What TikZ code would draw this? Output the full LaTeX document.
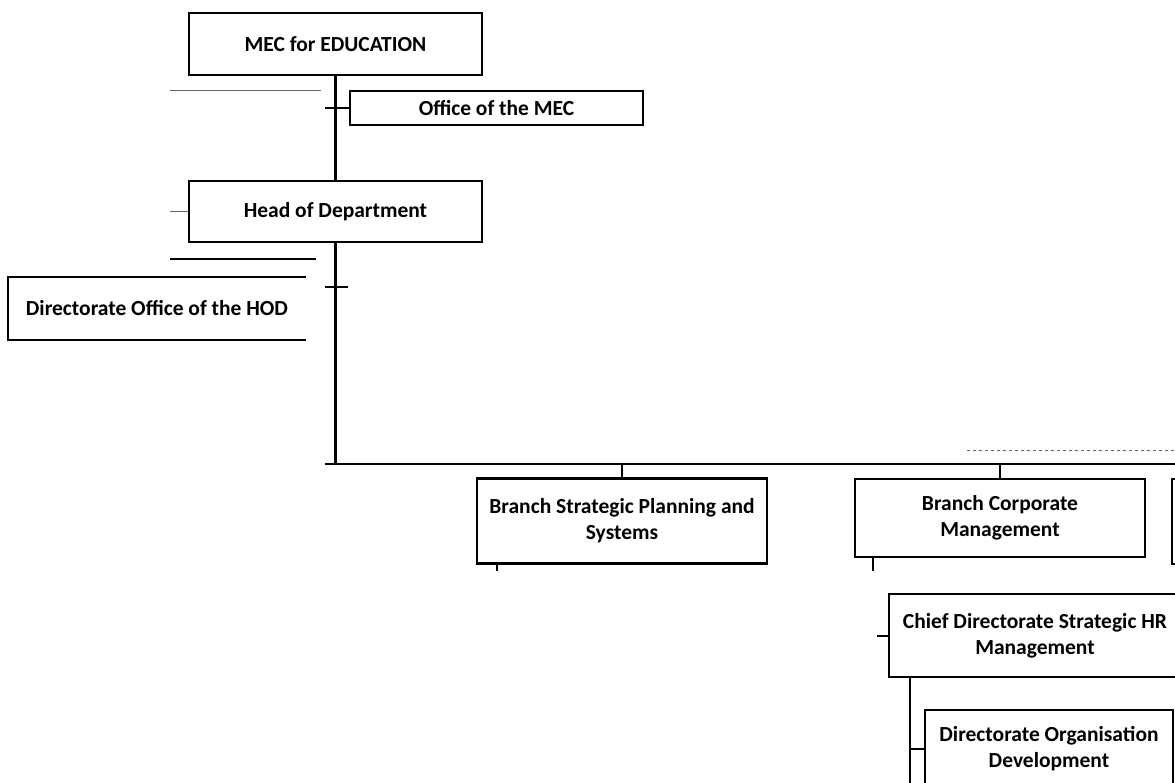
\documentclass[tikz,border=0pt]{standalone}
\usepackage{fontspec}
\setmainfont{Carlito}
\tikzset{
  box/.style={draw, line width=2.2pt, rectangle, inner sep=0pt, align=center,
    font=\fontsize{21.5}{26}\selectfont\bfseries},
  conn/.style={line width=2.2pt},
  thinconn/.style={line width=1.3pt},
  faint/.style={line width=1pt, black!60}
}
\begin{document}
\begin{tikzpicture}[x=1pt,y=-1pt]
\useasboundingbox (0,0) rectangle (1175,782);
\clip (0,0) rectangle (1175,782);
% boxes
\node[box, minimum width=293pt, minimum height=62pt] (mec) at (335.5,44) {MEC for EDUCATION};
\node[box, minimum width=293pt, minimum height=34pt] (office) at (496.5,108) {Office of the MEC};
\node[box, minimum width=293pt, minimum height=61pt] (hod) at (335.5,211.5) {Head of Department};
\node[box, draw=none, minimum width=296pt, minimum height=61pt] (dhod) at (157,308.5) {Directorate Office of the HOD};
\draw[conn] (dhod.north east) -- (dhod.north west) -- (dhod.south west) -- (dhod.south east);
\node[box, minimum width=290pt, minimum height=85pt] (bsp) at (622,521) {Branch Strategic Planning and\\Systems};
\node[box, minimum width=290pt, minimum height=78pt] (bcm) at (1000,518) {Branch Corporate\\Management};
\node[box, minimum width=290pt, minimum height=85pt] (bthree) at (1317,521.5) {};
\node[box, minimum width=292pt, minimum height=83pt] (chief) at (1035,635.5) {Chief Directorate Strategic HR\\Management};
\node[box, minimum width=248pt, minimum height=78pt] (dod) at (1049,749) {Directorate Organisation\\Development};
% trunk
\coordinate (trunk) at (335.5,464);
\draw[conn] (mec.south) -- (hod.north);
\draw[conn] (hod.south) -- (trunk);
\coordinate (tone) at (325,108);
\draw[conn] (tone) -- (office.west);
\coordinate (ttwoa) at (325,287);
\coordinate (ttwob) at (348,287);
\draw[thinconn] (ttwoa) -- (ttwob);
% bus
\coordinate (busL) at (325,464);
\coordinate (busR) at (1175,464);
\draw[conn] (busL) -- (busR);
\draw[thinconn] (bsp.north) -- (bsp.north |- busL);
\draw[thinconn] (bcm.north) -- (bcm.north |- busL);
% stubs
\coordinate (sone) at (497,571);
\draw[thinconn] (sone |- bsp.south) -- (sone);
\coordinate (stwo) at (873,571);
\draw[conn] (stwo |- bcm.south) -- (stwo);
% chief directorate
\coordinate (tthree) at (877,636);
\draw[conn] (tthree) -- (tthree -| chief.west);
\coordinate (cbot) at (910,790);
\draw[conn] (cbot |- chief.south) -- (cbot);
\draw[thinconn] (cbot |- dod.west) -- (dod.west);
% stray lines
\coordinate (tfour) at (170,211.5);
\draw[faint] (tfour) -- (hod.west);
\draw[faint] (170,90) -- (321,90);
\draw[conn] (170,259) -- (316,259);
\draw[faint, dashed] (967,450) -- (1175,450);
\end{tikzpicture}
\end{document}
